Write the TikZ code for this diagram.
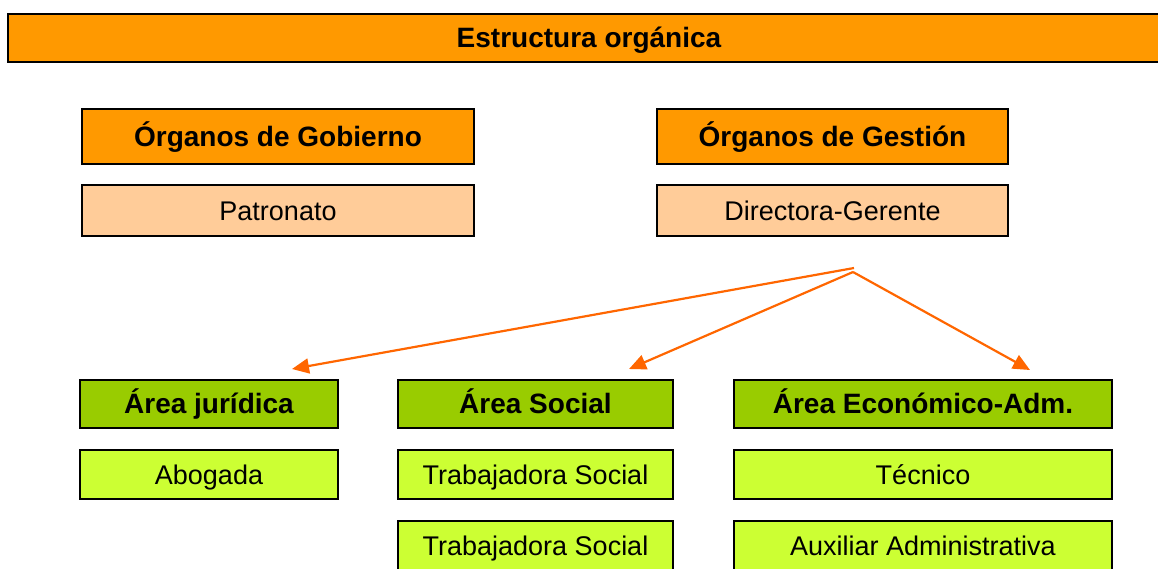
\documentclass[tikz,border=0pt]{standalone}
\usepackage{fontspec}
\setmainfont{Liberation Sans}
\usetikzlibrary{arrows.meta}
\definecolor{hdrorange}{HTML}{FF9900}
\definecolor{lightorange}{HTML}{FFCC99}
\definecolor{hdrgreen}{HTML}{99CC00}
\definecolor{lightgreen}{HTML}{CCFF33}
\definecolor{arroworange}{HTML}{FF6600}
\begin{document}
\begin{tikzpicture}[x=1pt,y=-1pt,
  box/.style={draw=black, line width=2pt, rectangle, inner sep=0pt,
    text height=19.5pt, text depth=0pt,
    font=\fontsize{27}{30}\selectfont},
  orghdr/.style={box, fill=hdrorange, font=\fontsize{28}{32}\selectfont\bfseries},
  orgsub/.style={box, fill=lightorange},
  areahdr/.style={box, fill=hdrgreen, font=\fontsize{28}{32}\selectfont\bfseries},
  areasub/.style={box, fill=lightgreen},
  link/.style={draw=arroworange, line width=2.2pt,
    -{Triangle[length=17pt,width=15pt]}}]
\clip (0,0) rectangle (1158,568);
\useasboundingbox (0,0) rectangle (1158,568);

% title bar
\node[orghdr, minimum width=1162pt, minimum height=48pt] (title) at (589,38) {Estructura orgánica};

% organos
\node[orghdr, minimum width=392pt, minimum height=55pt] (gob) at (278,136.5) {Órganos de Gobierno};
\node[orgsub, minimum width=392pt, minimum height=51pt] (pat) at (278,210.5) {Patronato};
\node[orghdr, minimum width=351pt, minimum height=55pt] (ges) at (832.5,136.5) {Órganos de Gestión};
\node[orgsub, minimum width=351pt, minimum height=51pt] (dir) at (832.5,210.5) {Directora-Gerente};

% areas
\node[areahdr, minimum width=258pt, minimum height=48pt] (jur) at (209,404) {Área jurídica};
\node[areasub, minimum width=258pt, minimum height=49pt] (abo) at (209,474.5) {Abogada};
\node[areahdr, minimum width=275pt, minimum height=48pt] (soc) at (535.5,404) {Área Social};
\node[areasub, minimum width=275pt, minimum height=49pt] (ts1) at (535.5,474.5) {Trabajadora Social};
\node[areasub, minimum width=275pt, minimum height=49pt] (ts2) at (535.5,545.5) {Trabajadora Social};
\node[areahdr, minimum width=378pt, minimum height=48pt] (eco) at (923,404) {Área Económico-Adm.};
\node[areasub, minimum width=378pt, minimum height=49pt] (tec) at (923,474.5) {Técnico};
\node[areasub, minimum width=378pt, minimum height=49pt] (aux) at (923,545.5) {Auxiliar Administrativa};

% arrows
\coordinate (src1) at (854,268);
\coordinate (src2) at (853,272);
\coordinate (tjur) at (292,369);
\coordinate (tsoc) at (629,369);
\coordinate (teco) at (1030,370);
\draw[link] (src1) -- (tjur);
\draw[link] (src2) -- (tsoc);
\draw[link] (src2) -- (teco);
\end{tikzpicture}
\end{document}
